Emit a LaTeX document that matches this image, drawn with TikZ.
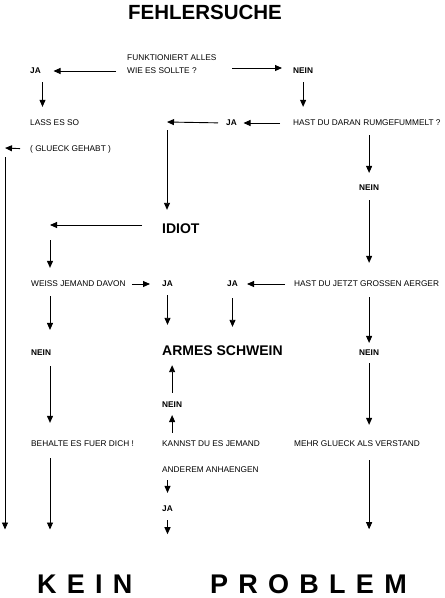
\documentclass[tikz,border=0pt]{standalone}
\usepackage{fontspec}
\setmainfont{Liberation Sans}
\usetikzlibrary{arrows.meta}

\begin{document}
\begin{tikzpicture}[x=1pt, y=-1pt,
	txt/.style={inner sep=0pt, anchor=west, font=\fontsize{8.3}{13}\selectfont},
	ans/.style={txt, font=\fontsize{8.3}{13}\selectfont\bfseries},
	big/.style={inner sep=0pt, anchor=west, font=\fontsize{14}{16}\selectfont\bfseries},
	endword/.style={inner sep=0pt, anchor=west, font=\fontsize{27}{32}\selectfont\bfseries\addfontfeature{LetterSpace=38}},
	arr/.style={draw=black, line width=0.9pt, -{Triangle[length=7pt,width=6pt]}}]
	\useasboundingbox (0,0) rectangle (445,598);
	\node[inner sep=0pt, font=\fontsize{20.5}{24}\selectfont\bfseries] (title) at (205,12) {FEHLERSUCHE};
	\node[txt, align=left] (funk) at (127,64.5) {FUNKTIONIERT ALLES\\WIE ES SOLLTE ?};
	\node[ans] (jaA) at (30,71) {JA};
	\node[ans] (neinA) at (293,71) {NEIN};
	\node[txt] (hast1) at (293,123) {HAST DU DARAN RUMGEFUMMELT ?};
	\node[ans] (jaB) at (226,123) {JA};
	\node[txt] (lass) at (30,123) {LASS ES SO};
	\node[txt] (glueck) at (30,149) {( GLUECK GEHABT )};
	\node[ans] (neinB) at (359,188) {NEIN};
	\node[big] (idiot) at (162,229) {IDIOT};
	\node[txt] (weiss) at (31,284) {WEISS JEMAND DAVON};
	\node[ans] (jaC) at (162,284) {JA};
	\node[ans] (jaD) at (227,284) {JA};
	\node[txt] (hast2) at (294,284) {HAST DU JETZT GROSSEN AERGER};
	\node[ans] (neinC) at (31,353) {NEIN};
	\node[big] (armes) at (162,351) {ARMES SCHWEIN};
	\node[ans] (neinD) at (359,353) {NEIN};
	\node[ans] (neinE) at (162,405) {NEIN};
	\node[txt] (behalte) at (31,444) {BEHALTE ES FUER DICH !};
	\node[txt] (kannst) at (162,444) {KANNST DU ES JEMAND};
	\node[txt] (mehr) at (294,444) {MEHR GLUECK ALS VERSTAND};
	\node[txt] (anderem) at (162,470) {ANDEREM ANHAENGEN};
	\node[ans] (jaE) at (162,509) {JA};
	\node[endword] (kein) at (37,584) {KEIN};
	\node[endword] (problem) at (210,584) {PROBLEM};
	\coordinate (turnA) at (5,148);
	\coordinate (turnB) at (167,122);
	\coordinate (turnC) at (50,225);
	\draw[arr, shorten <=11pt, shorten >=12.5pt] (funk.west |- jaA.east) -- (jaA.east);
	\draw[arr, shorten <=15.5pt, shorten >=11pt] ([yshift=-3.5pt]funk.east) -- ([yshift=-3.5pt]funk.east -| neinA.west);
	\draw[arr, shorten <=8pt, shorten >=13pt] ([xshift=7pt]jaA.south) -- ([xshift=7pt]jaA.south |- lass.north);
	\draw[arr, shorten <=8pt, shorten >=13pt] (neinA.south) -- (neinA.south |- hast1.north);
	\draw[arr, shorten <=13pt, shorten >=6.5pt] (hast1.west) -- (jaB.east);
	\draw[arr, shorten <=8pt] (jaB.west) -- (turnB);
	\draw[arr, shorten <=8pt, shorten >=14pt] (turnB) -- (turnB |- idiot.north);
	\draw[arr, shorten <=9pt, shorten >=12pt] (neinB |- hast1.south) -- (neinB.north);
	\draw[arr, shorten <=9pt, shorten >=18pt] (neinB.south) -- (neinB.south |- hast2.north);
	\draw[arr, shorten <=20pt] ([yshift=4pt]idiot.west) -- (turnC);
	\draw[arr, shorten <=15pt, shorten >=13pt] (turnC) -- (turnC |- weiss.north);
	\draw[arr, shorten <=6pt, shorten >=12pt] (weiss.east) -- (jaC.west);
	\draw[arr, shorten <=9pt, shorten >=9pt] (hast2.west) -- (jaD.east);
	\draw[arr, shorten <=9pt, shorten >=20pt] (turnC |- weiss.south) -- (turnC |- neinC.north);
	\draw[arr, shorten <=8pt, shorten >=21pt] (jaC.south) -- (jaC.south |- armes.north);
	\draw[arr, shorten <=11pt, shorten >=19pt] (jaD.south) -- (jaD.south |- armes.north);
	\draw[arr, shorten <=10pt, shorten >=7pt] (neinD |- hast2.south) -- (neinD.north);
	\draw[arr, shorten <=10pt, shorten >=18pt] (turnC |- neinC.south) -- (turnC |- behalte.north);
	\draw[arr, shorten <=7pt, shorten >=16pt] (neinD.south) -- (neinD.south |- mehr.north);
	\draw[arr, shorten <=9pt, shorten >=9pt] (neinE.north) -- (neinE.north |- armes.south);
	\draw[arr, shorten <=8pt, shorten >=7pt] (neinE.south |- kannst.north) -- (neinE.south);
	\draw[arr, shorten <=7pt, shorten >=13pt] (jaE |- anderem.south) -- (jaE.north);
	\draw[arr, shorten <=8pt, shorten >=40pt] (jaE.south) -- (jaE.south |- problem.north);
	\draw[arr, shorten <=11pt, shorten >=45pt] (turnC |- behalte.south) -- (turnC |- kein.north);
	\draw[arr, shorten <=13pt, shorten >=45pt] (neinD |- mehr.south) -- (neinD |- problem.north);
	\draw[arr, shorten <=10pt] (glueck.west) -- (turnA);
	\draw[arr, shorten <=9pt, shorten >=45pt] (turnA) -- (turnA |- kein.north);
\end{tikzpicture}
\end{document}
